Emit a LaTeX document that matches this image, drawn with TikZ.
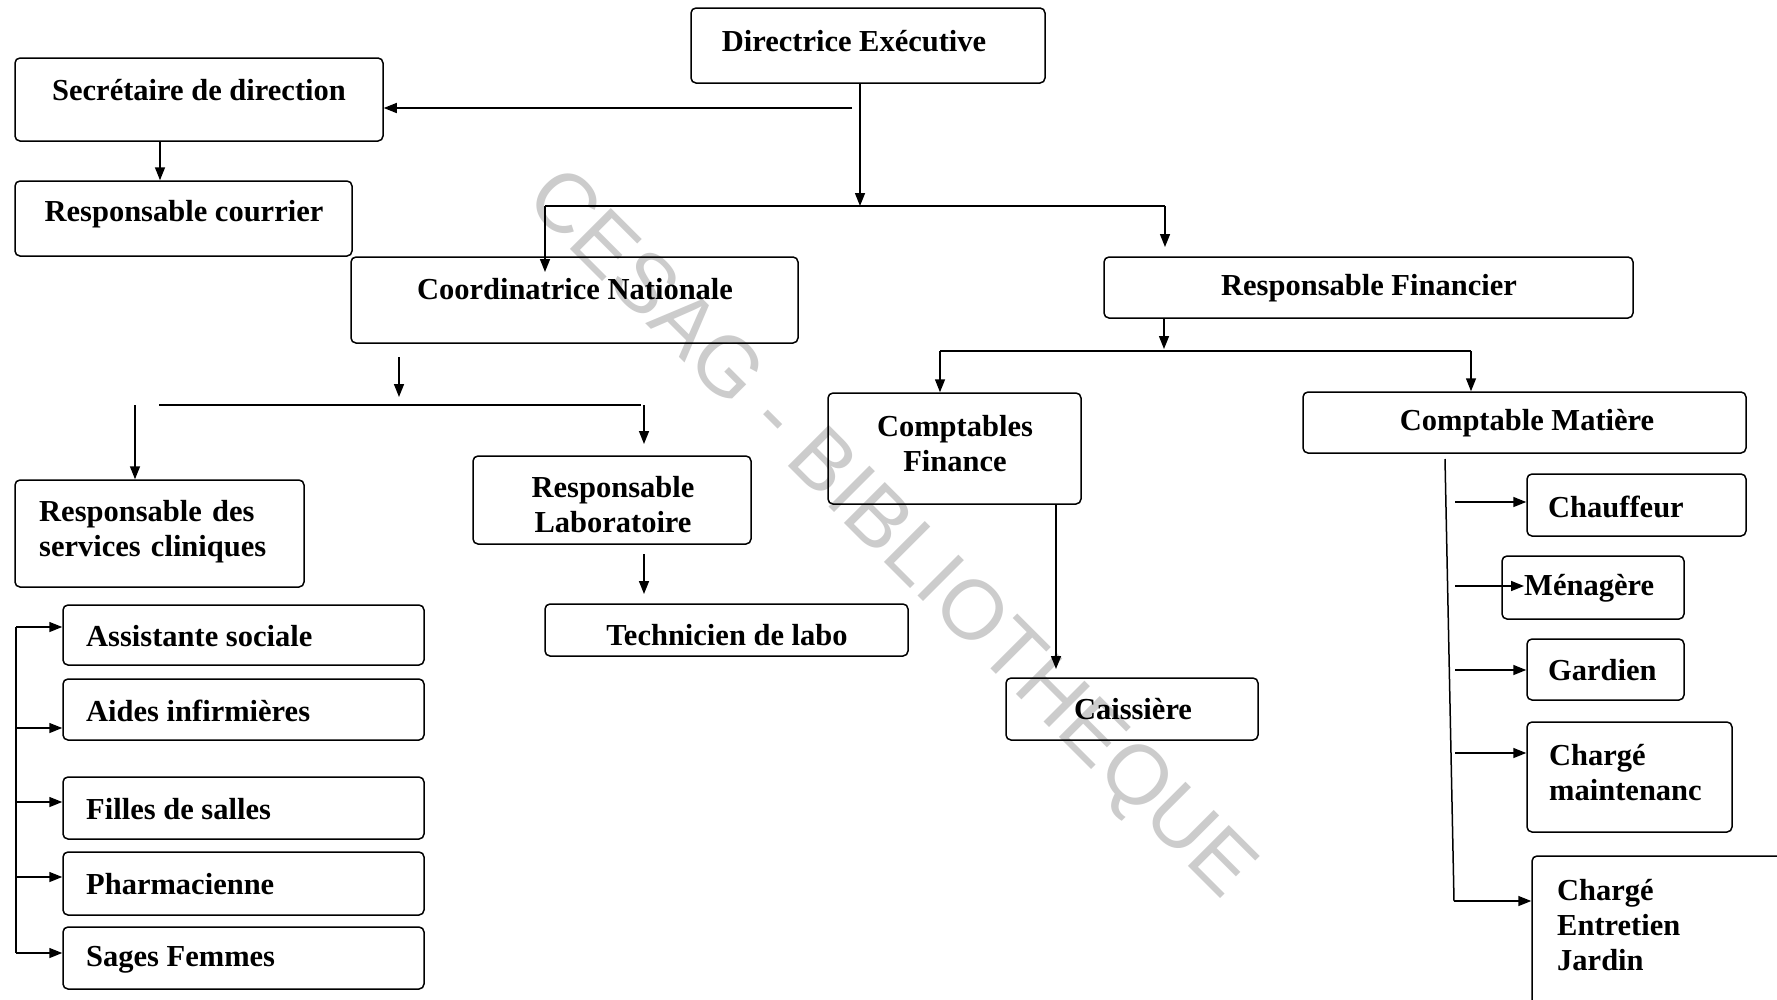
\documentclass[tikz,border=0pt]{standalone}
\usepackage{fontspec}
\setmainfont{Liberation Serif}
\newfontfamily\wmfont{Liberation Sans}
\usetikzlibrary{arrows.meta}
\begin{document}
\begin{tikzpicture}[x=1pt,y=-1pt,
  box/.style={draw,rounded corners=5pt,line width=1.5pt,inner sep=0pt},
  lbl/.style={inner sep=0pt,font=\bfseries\fontsize{30.5}{35}\selectfont},
  link/.style={line width=1.5pt},
  arr/.style={line width=1.5pt,-{Triangle[length=13pt,width=10pt]}}]
\clip (0,0) rectangle (1777,999);
\useasboundingbox (0,0) rectangle (1777,999);
\fill[white] (0,0) rectangle (1777,999);

% watermark
\node[rotate=-45,text=black!20,font=\wmfont\fontsize{84}{84}\selectfont] (wm) at (888,536) {CESAG - BIBLIOTHEQUE};

% boxes
\node[box,minimum width=354,minimum height=75] (dir) at (868,45.5) {};
\node[box,minimum width=368,minimum height=83] (sec) at (199,99.5) {};
\node[box,minimum width=337,minimum height=75] (cour) at (183.5,218.5) {};
\node[box,minimum width=447,minimum height=86] (coord) at (574.5,300) {};
\node[box,minimum width=529,minimum height=61] (fin) at (1368.5,287.5) {};
\node[box,minimum width=253,minimum height=111] (cfin) at (954.5,448.5) {};
\node[box,minimum width=443,minimum height=61] (cmat) at (1524.5,422.5) {};
\node[box,minimum width=289,minimum height=107] (rsc) at (159.5,533.5) {};
\node[box,minimum width=278,minimum height=88] (rlab) at (612,500) {};
\node[box,minimum width=363,minimum height=52] (tech) at (726.5,630) {};
\node[box,minimum width=252,minimum height=62] (cais) at (1132,709) {};
\node[box,minimum width=361,minimum height=60] (as) at (243.5,635) {};
\node[box,minimum width=361,minimum height=61] (ai) at (243.5,709.5) {};
\node[box,minimum width=361,minimum height=62] (fs) at (243.5,808) {};
\node[box,minimum width=361,minimum height=63] (ph) at (243.5,883.5) {};
\node[box,minimum width=361,minimum height=62] (sf) at (243.5,958) {};
\node[box,minimum width=219,minimum height=62] (chauf) at (1636.5,505) {};
\node[box,minimum width=182,minimum height=63] (men) at (1593,587.5) {};
\node[box,minimum width=157,minimum height=61] (gard) at (1605.5,669.5) {};
\node[box,minimum width=205,minimum height=110] (maint) at (1629.5,777) {};
\node[box,minimum width=270,minimum height=152] (jard) at (1667,932) {};

% labels
\node[lbl] (tdir) at (854,41) {Directrice Exécutive};
\node[lbl] (tsec) at (199,90) {Secrétaire de direction};
\node[lbl] (tcour) at (184,214) {Responsable courrier};
\node[lbl] (tcoord) at (575,289) {Coordinatrice Nationale};
\node[lbl] (tfin) at (1369,288) {Responsable Financier};
\node[lbl,align=center] (tcfin) at (955,444) {Comptables\\Finance};
\node[lbl] (tcmat) at (1527,423) {Comptable Matière};
\node[lbl,anchor=west,align=left,text width=242pt] (trsc) at (39,532)
  {\makebox[242pt][s]{Responsable des}\\services cliniques};
\node[lbl,align=center] (trlab) at (613,505) {Responsable\\Laboratoire};
\node[lbl] (ttech) at (727,635) {Technicien de labo};
\node[lbl] (tcais) at (1133,709) {Caissière};
\node[lbl,anchor=west] (tas) at (86,636) {Assistante sociale};
\node[lbl,anchor=west] (tai) at (86,711) {Aides infirmières};
\node[lbl,anchor=west] (tfs) at (86,809) {Filles de salles};
\node[lbl,anchor=west] (tph) at (86,884) {Pharmacienne};
\node[lbl,anchor=west] (tsf) at (86,960) {Sages Femmes};
\node[lbl,anchor=west] (tchauf) at (1548,507) {Chauffeur};
\node[lbl,anchor=west] (tmen) at (1524,588) {Ménagère};
\node[lbl,anchor=west] (tgard) at (1548,670) {Gardien};
\node[lbl,anchor=west,align=left] (tmaint) at (1549,773) {Chargé\\maintenanc};
\node[lbl,anchor=west,align=left] (tjard) at (1557,925) {Chargé\\Entretien\\Jardin};

% junction points
\coordinate (j1) at (860,206);
\coordinate (s1) at (852,108);
\coordinate (jl) at (545,206);
\coordinate (jr) at (1165,206);
\coordinate (jlt) at (545,272);
\coordinate (jrt) at (1165,247);
\coordinate (c1) at (399,357);
\coordinate (c2) at (399,397);
\coordinate (hl) at (159,405);
\coordinate (hr) at (641,405);
\coordinate (vl) at (135,405);
\coordinate (vr) at (644,405);
\coordinate (vrt) at (644,444);
\coordinate (l1) at (644,554);
\coordinate (l2) at (644,594);
\coordinate (f1) at (1164,349);
\coordinate (fl) at (940,351);
\coordinate (fr) at (1471,351);
\coordinate (k1) at (1056,669);
\coordinate (m0) at (1445,459);
\coordinate (m5) at (1454,901);
\coordinate (m1) at (1455,502);
\coordinate (m2) at (1455,586);
\coordinate (m2t) at (1524,586);
\coordinate (m3) at (1455,670);
\coordinate (m4) at (1455,753);
\coordinate (b1) at (16,627);
\coordinate (b2) at (16,728);
\coordinate (b3) at (16,802);
\coordinate (b4) at (16,877);
\coordinate (b5) at (16,953);

% Directrice Exécutive
\draw[arr] (dir.south -| j1) -- (j1);
\draw[arr] (s1) -- (s1 -| sec.east);
\draw[link] (jl) -- (jr);
\draw[arr] (jl) -- (jlt);
\draw[arr] (jr) -- (jrt);

% Secrétaire de direction
\draw[arr] (sec.south -| 160,0) -- (cour.north -| 160,0);

% Coordinatrice Nationale
\draw[arr] (c1) -- (c2);
\draw[link] (hl) -- (hr);
\draw[arr] (vl) -- (rsc.north -| vl);
\draw[arr] (vr) -- (vrt);
\draw[arr] (l1) -- (l2);

% services cliniques
\draw[link] (b1) -- (b5);
\draw[arr] (b1) -- (b1 -| as.west);
\draw[arr] (b2) -- (b2 -| ai.west);
\draw[arr] (b3) -- (b3 -| fs.west);
\draw[arr] (b4) -- (b4 -| ph.west);
\draw[arr] (b5) -- (b5 -| sf.west);

% Responsable Financier
\draw[arr] (fin.south -| f1) -- (f1);
\draw[link] (fl) -- (fr);
\draw[arr] (fl) -- (cfin.north -| fl);
\draw[arr] (fr) -- (cmat.north -| fr);
\draw[arr] (cfin.south -| k1) -- (k1);

% Comptable Matière
\draw[link] (m0) -- (m5);
\draw[arr] (m1) -- (m1 -| chauf.west);
\draw[arr] (m2) -- (m2t);
\draw[arr] (m3) -- (m3 -| gard.west);
\draw[arr] (m4) -- (m4 -| maint.west);
\draw[arr] (m5) -- (m5 -| jard.west);
\end{tikzpicture}
\end{document}
